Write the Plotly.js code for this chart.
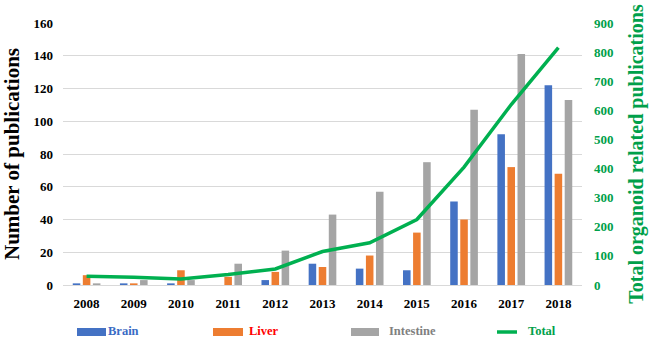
<!DOCTYPE html>
<html><head><meta charset="utf-8">
<script src="https://cdn.plot.ly/plotly-3.0.1.min.js"></script>
<style>html,body{margin:0;padding:0;background:#fff}#chart{width:650px;height:339px}</style>
</head><body><div id="chart"></div>
<script>
const years = ['2008','2009','2010','2011','2012','2013','2014','2015','2016','2017','2018'];
const brain = [1, 1, 1, 0, 3, 13, 10, 9, 51, 92, 122];
const liver = [6, 1, 9, 5, 8, 11, 18, 32, 40, 72, 68];
const intestine = [1, 3, 3, 13, 21, 43, 57, 75, 107, 141, 113];
const total = [30, 27, 21, 36, 55, 115, 145, 225, 405, 620, 815];
const seriesNames = ['Brain', 'Liver', 'Intestine', 'Total'];
const seriesColors = ['#4472C4', '#ED7D31', '#A5A5A5', '#00B050'];
const legendTextColors = ['#3A6BC4', '#FF0000', '#808080', '#00A04A'];

const W = 650, H = 339, M = {l: 63, r: 68, t: 23, b: 54};
const pw = W - M.l - M.r, ph = H - M.t - M.b;
const px = x => (x - M.l) / pw;
const py = y => (H - M.b - y) / ph;

const font = "'Liberation Serif', 'Times New Roman', serif";
const traces = [
  {type: 'bar', x: years, y: brain, name: seriesNames[0], marker: {color: seriesColors[0]}},
  {type: 'bar', x: years, y: liver, name: seriesNames[1], marker: {color: seriesColors[1]}},
  {type: 'bar', x: years, y: intestine, name: seriesNames[2], marker: {color: seriesColors[2]}},
  {type: 'scatter', mode: 'lines', x: years, y: total, name: seriesNames[3], yaxis: 'y2',
   line: {color: seriesColors[3], width: 3.5}}
];

// custom legend (pixel positions -> paper)
const legX = [77, 213, 351, 497];
const legW = [29, 30, 28, 20];
const legT = [107, 248, 388, 527];
const shapes = [], annotations = [];
for (let i = 0; i < 4; i++) {
  if (i < 3) {
    shapes.push({type: 'rect', xref: 'paper', yref: 'paper', x0: px(legX[i]), x1: px(legX[i] + legW[i]),
      y0: py(336), y1: py(328), fillcolor: seriesColors[i], line: {width: 0}});
  } else {
    shapes.push({type: 'line', xref: 'paper', yref: 'paper', x0: px(legX[i]), x1: px(legX[i] + legW[i]),
      y0: py(332), y1: py(332), line: {color: seriesColors[i], width: 3.5}});
  }
  annotations.push({xref: 'paper', yref: 'paper', x: px(legT[i]), y: py(331),
    xanchor: 'left', yanchor: 'middle', showarrow: false, borderpad: 0, text: '<b>' + seriesNames[i] + '</b>',
    font: {family: font, size: 12.5, color: legendTextColors[i]}});
}

const layout = {
  width: W, height: H, margin: M, showlegend: false,
  paper_bgcolor: '#fff', plot_bgcolor: '#fff',
  barmode: 'group', bargap: 0.36, bargroupgap: 0.25,
  font: {family: font, color: '#000'},
  xaxis: {type: 'category', ticks: '', showgrid: false, zeroline: false,
    showline: true, linecolor: '#d9d9d9', linewidth: 1,
    tickfont: {family: font, size: 13, color: '#000', weight: 'bold'}, ticklabelstandoff: 6},
  yaxis: {range: [0, 160], dtick: 20, ticks: '', gridcolor: '#d9d9d9', zeroline: false, showline: false,
    tickfont: {family: font, size: 13, color: '#000', weight: 'bold'}, ticklabelstandoff: 9,
    title: {text: '<b>Number of publications</b>', font: {family: font, size: 21, color: '#000'}, standoff: 10}},
  yaxis2: {range: [0, 900], dtick: 100, overlaying: 'y', side: 'right', ticks: '', showgrid: false,
    zeroline: false, showline: false,
    tickfont: {family: font, size: 13, color: '#00A04A', weight: 'bold'}, ticklabelstandoff: 11,
    title: {text: '<b>Total organoid related publications</b>', font: {family: font, size: 20, color: '#00A04A'}, standoff: 16}},
  shapes: shapes, annotations: annotations
};
Plotly.newPlot('chart', traces, layout, {displayModeBar: false, staticPlot: true});
</script></body></html>
